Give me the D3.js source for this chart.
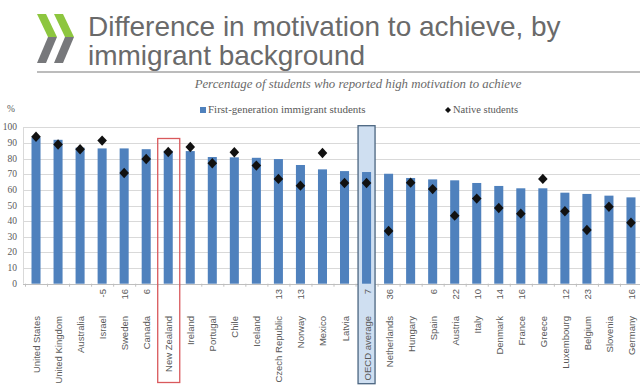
<!DOCTYPE html>
<html>
<head>
<meta charset="utf-8">
<script src="https://cdn.jsdelivr.net/npm/d3@7"></script>
<style>
  body { margin: 0; background: #fff; }
  svg { display: block; }
</style>
</head>
<body>
<div id="vis"></div>
<script>
var categories = ["United States", "United Kingdom", "Australia", "Israel", "Sweden", "Canada",
    "New Zealand", "Ireland", "Portugal", "Chile", "Iceland", "Czech Republic", "Norway", "Mexico",
    "Latvia", "OECD average", "Netherlands", "Hungary", "Spain", "Austria", "Italy", "Denmark",
    "France", "Greece", "Luxembourg", "Belgium", "Slovenia", "Germany"];

var firstGen = [93.5, 92, 87, 86.5, 86.5, 86, 85, 84.8, 81, 80.8, 80.5, 79.7, 75.9, 73.1,
    72, 71.4, 70.3, 67.6, 66.7, 66.1, 64.4, 62.5, 61, 61, 58.2, 57.4, 56.3, 55.2];

var native = [94, 89, 86, 91.5, 70.8, 79.7, 84.2, 87.4, 77, 84, 75.5, 67, 62.7, 83.6,
    64.4, 64.4, 33.7, 64.6, 60.5, 43.5, 54.4, 48.4, 44.8, 67, 46.3, 34.3, 49.2, 39];

var diffLabels = ["", "", "", "-5", "16", "6", "", "", "", "", "", "13", "13", "", "",
    "7", "36", "", "6", "22", "10", "14", "16", "", "12", "23", "", "16"];

var yTicks = [0, 10, 20, 30, 40, 50, 60, 70, 80, 90, 100];

var layers = ["First-generation immigrant students", "Native students"];

var W = 640, H = 387;
var svg = d3.select("#vis").append("svg")
    .attr("width", W)
    .attr("height", H);

// logo chevrons
[0, 17].forEach(function (dx) {
    svg.append("polygon")
        .attr("points", [[37 + dx, 14], [46 + dx, 14], [57 + dx, 37], [48 + dx, 37]].join(" "))
        .attr("fill", "#8dc63f");
    svg.append("polygon")
        .attr("points", [[48 + dx, 37], [57 + dx, 37], [46 + dx, 63], [37 + dx, 63]].join(" "))
        .attr("fill", "#77787b");
});

// title
var title = svg.append("text")
    .attr("x", 88)
    .attr("y", 36)
    .style("font-family", "'Liberation Sans', Arial, sans-serif")
    .style("font-size", "28px")
    .style("fill", "#6a6a6a");
title.append("tspan").attr("x", 88).text("Difference in motivation to achieve, by");
title.append("tspan").attr("x", 88).attr("dy", 29).text("immigrant background");

svg.append("line")
    .attr("x1", 37).attr("x2", 640)
    .attr("y1", 72).attr("y2", 72)
    .attr("stroke", "#a6a6a6")
    .attr("stroke-width", 1.5);

svg.append("text")
    .attr("x", 358)
    .attr("y", 88)
    .attr("text-anchor", "middle")
    .style("font-family", "'Liberation Serif', 'Times New Roman', serif")
    .style("font-style", "italic")
    .style("font-size", "12.8px")
    .style("fill", "#6a6a6a")
    .text("Percentage of students who reported high motivation to achieve");

var x = d3.scaleBand()
    .domain(categories)
    .range([25, 642])
    .paddingInner(0.59)
    .paddingOuter(0.295);

var y = d3.scaleLinear()
    .domain([0, 100])
    .range([283.7, 127.3]);

var step = x.step();

// gridlines
svg.append("g")
    .selectAll("line")
    .data(yTicks)
    .enter().append("line")
    .attr("x1", 23).attr("x2", 642)
    .attr("y1", d => Math.round(y(d)) + 0.5)
    .attr("y2", d => Math.round(y(d)) + 0.5)
    .attr("stroke", d => d === 0 ? "#bfbfbf" : "#d9d9d9")
    .attr("stroke-width", 1);

svg.append("line")
    .attr("x1", 23.5).attr("x2", 23.5)
    .attr("y1", y(100)).attr("y2", y(0))
    .attr("stroke", "#d9d9d9");

// y tick labels
svg.append("g")
    .selectAll("text")
    .data(yTicks)
    .enter().append("text")
    .attr("x", 17)
    .attr("y", d => y(d) + 3)
    .attr("text-anchor", "end")
    .style("font-family", "'Liberation Serif', Georgia, serif")
    .style("font-size", "9.5px")
    .style("fill", "#595959")
    .text(d => d);

svg.append("text")
    .attr("x", 7)
    .attr("y", 112)
    .style("font-family", "'Liberation Serif', Georgia, serif")
    .style("font-size", "9.5px")
    .style("fill", "#595959")
    .text("%");

// x ticks between categories
svg.append("g")
    .selectAll("line")
    .data(d3.range(categories.length + 1))
    .enter().append("line")
    .attr("x1", i => 25 + i * step + 0.5)
    .attr("x2", i => 25 + i * step + 0.5)
    .attr("y1", y(0))
    .attr("y2", y(0) + 3)
    .attr("stroke", "#bfbfbf");

// highlight boxes
var nz = "New Zealand", oecd = "OECD average";
svg.append("rect")
    .attr("x", x(oecd) + x.bandwidth() / 2 - 8.5)
    .attr("y", 125.7)
    .attr("width", 17)
    .attr("height", 258)
    .attr("fill", "#cfdff1")
    .attr("stroke", "#4a6580")
    .attr("stroke-width", 1.3);

// bars
svg.append("g")
    .selectAll("rect")
    .data(firstGen)
    .enter().append("rect")
    .attr("x", (d, i) => x(categories[i]))
    .attr("y", d => y(d))
    .attr("width", x.bandwidth())
    .attr("height", d => y(0) - y(d))
    .attr("fill", "#4f81bd");

// native diamonds
svg.append("g")
    .selectAll("path")
    .data(native)
    .enter().append("path")
    .attr("transform", (d, i) => "translate(" + (x(categories[i]) + x.bandwidth() / 2) + "," + y(d) + ")")
    .attr("d", "M0,-5.2L4.8,0L0,5.2L-4.8,0Z")
    .attr("fill", "#111");

svg.append("rect")
    .attr("x", x(nz) + x.bandwidth() / 2 - step / 2 + 0.5)
    .attr("y", 138.5)
    .attr("width", step)
    .attr("height", 244)
    .attr("fill", "none")
    .attr("stroke", "#d9595c")
    .attr("stroke-width", 1.3);

// category labels
var lab = svg.append("g")
    .selectAll("g")
    .data(categories)
    .enter().append("g")
    .attr("transform", d => "translate(" + (x(d) + x.bandwidth() / 2 + 4) + ",0)");

lab.append("text")
    .attr("transform", "translate(0,316) rotate(-90)")
    .attr("text-anchor", "end")
    .style("font-family", "'Liberation Sans', Arial, sans-serif")
    .style("font-size", "9.5px")
    .style("fill", "#595959")
    .text(d => d);

lab.append("text")
    .attr("transform", "translate(0,289) rotate(-90)")
    .attr("text-anchor", "end")
    .style("font-family", "'Liberation Sans', Arial, sans-serif")
    .style("font-size", "9.5px")
    .style("fill", "#595959")
    .text((d, i) => diffLabels[i]);

// legend
var legend = svg.append("g");
legend.append("rect")
    .attr("x", 200).attr("y", 107)
    .attr("width", 6).attr("height", 6)
    .attr("fill", "#4f81bd");
legend.append("text")
    .attr("x", 208).attr("y", 113)
    .style("font-family", "'Liberation Serif', Georgia, serif")
    .style("font-size", "11px")
    .style("fill", "#595959")
    .text(layers[0]);
legend.append("path")
    .attr("transform", "translate(448,110)")
    .attr("d", "M0,-3L3,0L0,3L-3,0Z")
    .attr("fill", "#111");
legend.append("text")
    .attr("x", 453).attr("y", 113)
    .style("font-family", "'Liberation Serif', Georgia, serif")
    .style("font-size", "10.5px")
    .style("fill", "#595959")
    .text(layers[1]);
</script>
</body>
</html>
